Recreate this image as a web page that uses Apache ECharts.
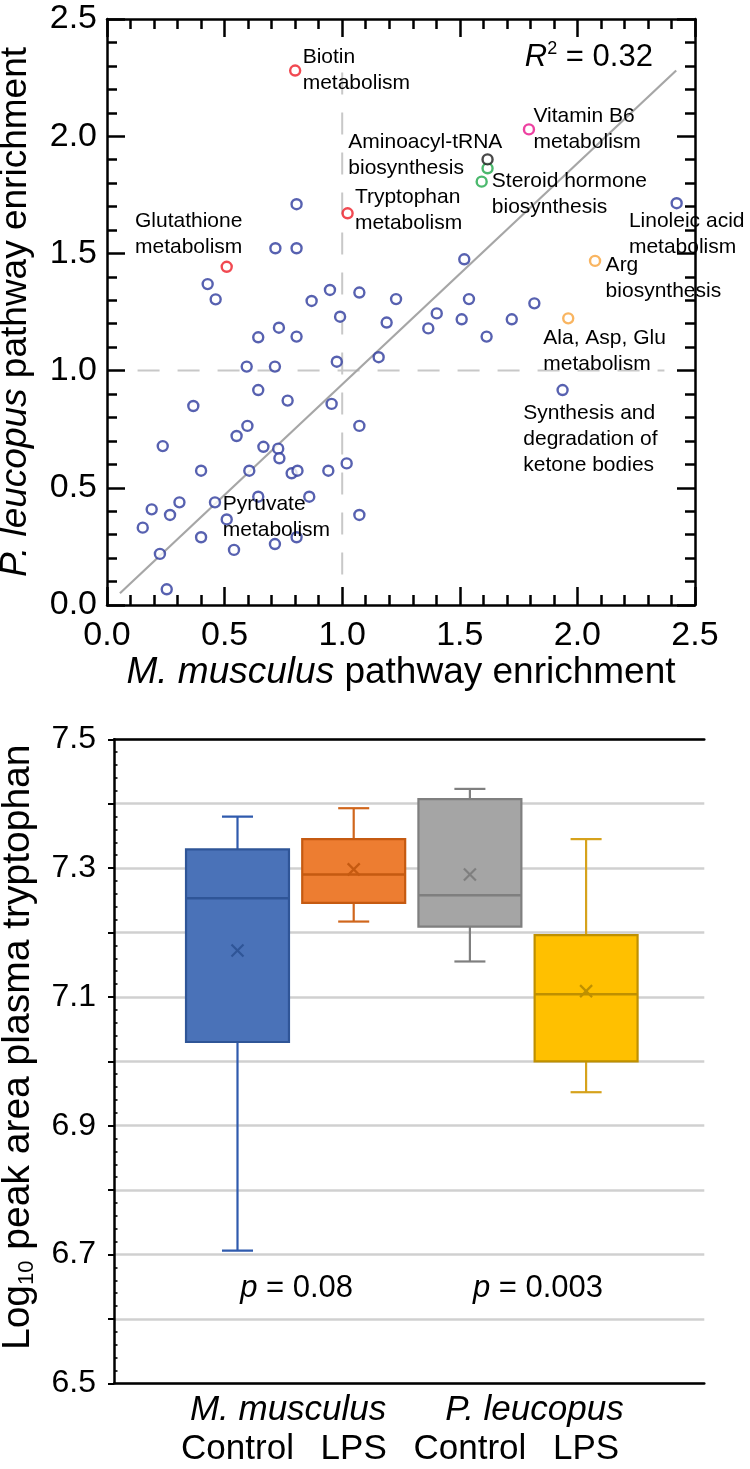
<!DOCTYPE html>
<html>
<head>
<meta charset="utf-8">
<script src="https://cdn.jsdelivr.net/npm/echarts@6/dist/echarts.min.js"></script>
<style>
html,body{margin:0;padding:0;background:#fff;}
#c{width:750px;height:1469px;}
</style>
</head>
<body>
<div id="c"></div>
<script>
// ---------------- Top panel data (pathway enrichment) ----------------
const bluePathways = [
  [0.806,1.71],[0.716,1.522],[0.806,1.522],[0.428,1.369],[0.462,1.304],[0.870,1.297],
  [0.948,1.344],[0.991,1.230],[1.073,1.333],[0.731,1.183],[2.422,1.714],[1.519,1.475],
  [1.229,1.305],[1.539,1.305],[1.817,1.287],[1.189,1.205],[1.402,1.244],[1.366,1.180],
  [1.508,1.219],[1.721,1.219],[1.614,1.145],[1.155,1.057],[1.937,0.917],[0.643,1.142],
  [0.806,1.145],[0.594,1.017],[0.714,1.017],[0.977,1.038],[0.643,0.917],[0.768,0.872],
  [0.367,0.849],[0.955,0.858],[1.073,0.764],[0.597,0.764],[0.551,0.721],[0.665,0.675],
  [0.728,0.667],[0.733,0.626],[0.237,0.678],[0.400,0.573],[0.605,0.573],[0.785,0.562],
  [0.810,0.573],[0.941,0.573],[1.019,0.604],[0.190,0.408],[0.268,0.384],[0.308,0.438],
  [0.152,0.330],[0.225,0.218],[0.254,0.067],[0.400,0.289],[0.459,0.438],[0.509,0.365],
  [0.540,0.235],[0.643,0.462],[0.860,0.462],[0.714,0.260],[0.806,0.289],[1.073,0.384]
];
const redPathways = [[0.800,2.280],[1.023,1.671],[0.509,1.443]];
const greenPathways = [[1.618,1.863],[1.593,1.806]];
const blackPathways = [[1.618,1.901]];
const magentaPathways = [[1.794,2.029]];
const orangePathways = [[2.075,1.468],[1.961,1.223]];

const fitLine = [[0.055,0.05],[2.42,2.28]];
const refLineH = [[0.13,1.0],[2.37,1.0]];
const refLineV = [[1.0,0.13],[1.0,2.30]];

const labelTexts = [
  'Biotin\nmetabolism','Glutathione\nmetabolism','Aminoacyl-tRNA\nbiosynthesis',
  'Tryptophan\nmetabolism','Vitamin B6\nmetabolism','Steroid hormone\nbiosynthesis',
  'Linoleic acid\nmetabolism','Arg\nbiosynthesis','Ala, Asp, Glu\nmetabolism',
  'Synthesis and\ndegradation of\nketone bodies','Pyruvate\nmetabolism'
];
const labelX = [0.832,0.119,1.026,1.054,1.813,1.636,2.219,2.120,1.855,1.770,0.492];
const labelY = [2.282,1.580,1.918,1.684,2.030,1.751,1.584,1.396,1.084,0.708,0.375];
const rSquared = '0.32';
const rSquaredPos = [2.321, 2.337];

const topTicks = [0, 2.5, 0.5];

// ---------------- Bottom panel data (plasma tryptophan) ----------------
const groupLabels = ['Control','LPS','Control','LPS'];
const speciesLabels = ['M. musculus','P. leucopus'];
const whiskerLow  = [6.706, 7.217, 7.155, 6.952];
const q1          = [7.030, 7.246, 7.209, 7.000];
const medians     = [7.253, 7.290, 7.258, 7.104];
const q3          = [7.329, 7.345, 7.407, 7.196];
const whiskerHigh = [7.380, 7.393, 7.423, 7.345];
const means       = [7.172, 7.298, 7.290, 7.109];
const pValues     = ['0.08','0.003'];
const pValueY     = 6.647;
const bottomTicks = [6.5, 7.5, 0.1];

// ---------------- styles ----------------
const FONT = "'Liberation Sans', Arial, Helvetica, sans-serif";
const boxFill   = ['#4a72b8','#ed7d31','#a5a5a5','#ffc000'];
const boxStroke = ['#2f5597','#c55a11','#7f7f7f','#bf9000'];
const whiskerCol= ['#2f5aad','#d0661c','#7f7f7f','#d6a21c'];
const BOX_FRAC = 0.886, CAP_FRAC = 0.267;

const chart = echarts.init(document.getElementById('c'), null, {renderer:'canvas'});

const axisBlack = {color:'#000', width:2.5};
function topAxis(pos, withLabel, extra) {
  return Object.assign({
    type:'value', gridIndex:0, min:topTicks[0], max:topTicks[1], interval:topTicks[2], position:pos,
    axisLine:{show:true, onZero:false, lineStyle:axisBlack},
    axisTick:{show:true, inside:true, length:18, lineStyle:{color:'#000', width:2.5}},
    minorTick:{show:true, splitNumber:5, length:10, lineStyle:{color:'#000', width:2.5}},
    axisLabel:{show:withLabel},
    splitLine:{show:false}, minorSplitLine:{show:false}
  }, extra||{});
}

const boxData = groupLabels.map((g,i)=>[i, whiskerLow[i], q1[i], medians[i], q3[i], whiskerHigh[i], means[i]]);

const option = {
  animation:false,
  backgroundColor:'#fff',
  textStyle:{fontFamily:FONT},
  grid:[
    {left:107, top:19, width:588, height:586, containLabel:false, outerBoundsMode:'none'},
    {left:114, top:739.3, width:590.3, height:644, containLabel:false, outerBoundsMode:'none'},
    {left:179.4, top:739.3, width:464.8, height:644, containLabel:false, outerBoundsMode:'none'}
  ],
  xAxis:[
    topAxis('bottom',true,{
      axisLabel:{show:true, margin:14, fontSize:34, color:'#000', fontFamily:FONT,
        showMinLabel:true, showMaxLabel:true, formatter:v=>v.toFixed(1)},
      name:'{i|M. musculus} pathway enrichment', nameLocation:'middle', nameGap:45,
      nameTextStyle:{fontSize:37, lineHeight:37, color:'#000', fontFamily:FONT,
        rich:{i:{fontStyle:'italic', fontSize:37, lineHeight:37, fontFamily:FONT, color:'#000'}}}
    }),
    topAxis('top',false),
    {type:'category', gridIndex:1, data:[''], position:'bottom',
      axisLine:{show:true, onZero:false, lineStyle:axisBlack}, axisTick:{show:false}, axisLabel:{show:false}, splitLine:{show:false}},
    {type:'category', gridIndex:1, data:[''], position:'top',
      axisLine:{show:true, onZero:false, lineStyle:axisBlack}, axisTick:{show:false}, axisLabel:{show:false}, splitLine:{show:false}},
    {type:'category', gridIndex:2, data:groupLabels, position:'bottom',
      axisLine:{show:false}, axisTick:{show:false}, splitLine:{show:false},
      axisLabel:{show:true, interval:0, margin:49, fontSize:35, lineHeight:35, color:'#000', fontFamily:FONT}},
    {type:'category', gridIndex:2, data:speciesLabels, position:'bottom',
      axisLine:{show:false}, axisTick:{show:false}, splitLine:{show:false},
      axisLabel:{show:true, interval:0, margin:9, color:'#000', fontFamily:FONT,
        formatter:(v,i)=> i===0 ? '{a|'+v+'}' : '{b|'+v+'}',
        rich:{
          a:{fontSize:35, lineHeight:35, fontStyle:'italic', fontFamily:FONT, color:'#000', padding:[0,15,0,0]},
          b:{fontSize:35, lineHeight:35, fontStyle:'italic', fontFamily:FONT, color:'#000', padding:[0,0,0,13]}
        }}}
  ],
  yAxis:[
    topAxis('left',true,{
      axisLabel:{show:true, margin:10, fontSize:34, color:'#000', fontFamily:FONT,
        showMinLabel:true, showMaxLabel:true, formatter:v=>v.toFixed(1)},
      name:'{i|P. leucopus} pathway enrichment', nameLocation:'middle', nameGap:73,
      nameTextStyle:{fontSize:37, lineHeight:37, color:'#000', fontFamily:FONT,
        rich:{i:{fontStyle:'italic', fontSize:37, lineHeight:37, fontFamily:FONT, color:'#000'}}}
    }),
    topAxis('right',false),
    {type:'value', gridIndex:1, min:bottomTicks[0], max:bottomTicks[1], interval:bottomTicks[2], position:'left',
      axisLine:{show:true, onZero:false, lineStyle:axisBlack},
      axisTick:{show:true, inside:false, length:6, lineStyle:{color:'#000', width:2}},
      minorTick:{show:false},
      splitLine:{show:true, lineStyle:{color:'#d0d0d0', width:2.5}},
      minorSplitLine:{show:false},
      axisLabel:{show:true, margin:18, fontSize:32, color:'#000', fontFamily:FONT,
        showMinLabel:true, showMaxLabel:true,
        formatter:v=> (Math.round(v*10)%2===1) ? v.toFixed(1) : ''},
      name:'{a|Log}{s|10}{a| peak area plasma tryptophan}', nameLocation:'middle', nameGap:76,
      nameTextStyle:{color:'#000', fontFamily:FONT, padding:[0,0,0,28],
        rich:{
          a:{fontSize:39, lineHeight:40, fontFamily:FONT, color:'#000'},
          s:{fontSize:22, lineHeight:20, fontFamily:FONT, color:'#000', verticalAlign:'bottom'}
        }}
    },
    {type:'value', gridIndex:2, min:bottomTicks[0], max:bottomTicks[1], show:false,
      axisLine:{show:false}, axisTick:{show:false}, axisLabel:{show:false}, splitLine:{show:false}},
    // overlay axis carrying the small inward minor ticks of the bottom panel
    {type:'value', gridIndex:1, min:bottomTicks[0], max:bottomTicks[1], interval:bottomTicks[2], position:'left', offset:0,
      axisLine:{show:false, onZero:false},
      axisTick:{show:false, inside:true},
      minorTick:{show:true, splitNumber:5, length:3.5, lineStyle:{color:'#000', width:1.6}},
      axisLabel:{show:false}, splitLine:{show:false}, minorSplitLine:{show:false}}
  ],
  series:[
    {type:'line', xAxisIndex:0, yAxisIndex:0, data:refLineH, symbol:'none', silent:true, z:1,
      lineStyle:{color:'#c8c8c8', width:2, type:[22,18]}},
    {type:'line', xAxisIndex:0, yAxisIndex:0, data:refLineV, symbol:'none', silent:true, z:1,
      lineStyle:{color:'#c8c8c8', width:2, type:[22,18]}},
    {type:'line', xAxisIndex:0, yAxisIndex:0, data:fitLine, symbol:'none', silent:true, z:2,
      lineStyle:{color:'#a6a6a6', width:2.2}},
    ...[[bluePathways,'#2d3a9c'],[redPathways,'#ee1c25'],[greenPathways,'#1fa84a'],
        [blackPathways,'#1a1a1a'],[magentaPathways,'#e8118a'],[orangePathways,'#f7a23a']].map(([d,c])=>({
      type:'scatter', xAxisIndex:0, yAxisIndex:0, data:d, symbol:'circle', symbolSize:10, z:3,
      itemStyle:{color:'#fff', borderColor:c, borderWidth:2.4}
    })),
    {type:'scatter', xAxisIndex:0, yAxisIndex:0, z:5, silent:true, symbolSize:0,
      itemStyle:{color:'#000'},
      data:labelTexts.map((t,i)=>({value:[labelX[i], labelY[i]], name:t})),
      label:{show:true, position:[0,0], align:'left', verticalAlign:'middle', opacity:1,
        formatter:p=>p.name, fontSize:21, lineHeight:26, color:'#000', fontFamily:FONT}},
    {type:'scatter', xAxisIndex:0, yAxisIndex:0, z:5, silent:true, symbolSize:0,
      itemStyle:{color:'#000'},
      data:[{value:rSquaredPos, name:rSquared}],
      label:{show:true, position:[0,0], align:'right', verticalAlign:'middle', opacity:1,
        formatter:p=>'{i|R}{s|2}{t| = '+p.name+'}',
        rich:{
          i:{fontSize:31, lineHeight:34, fontStyle:'italic', fontFamily:FONT, color:'#000'},
          s:{fontSize:18, lineHeight:34, fontFamily:FONT, color:'#000', verticalAlign:'top', padding:[0,0,10,0]},
          t:{fontSize:31, lineHeight:34, fontFamily:FONT, color:'#000'}
        }}},
    {type:'custom', xAxisIndex:4, yAxisIndex:3, z:4, silent:true,
      data:boxData,
      encode:{x:0, y:[1,2,3,4,5,6]},
      renderItem:(params, api)=>{
        const i = api.value(0);
        const band = api.size([1,0])[0];
        const cx = api.coord([i, 7])[0];
        const Y = v => api.coord([i, v])[1];
        const bw = band*BOX_FRAC, cw = band*CAP_FRAC;
        const lo = Y(api.value(1)), b1 = Y(api.value(2)), md = Y(api.value(3)),
              b3 = Y(api.value(4)), hi = Y(api.value(5)), mn = Y(api.value(6));
        const wc = whiskerCol[i], sc = boxStroke[i];
        const wl = {stroke:wc, lineWidth:2.2};
        const m = 6;
        return {type:'group', children:[
          {type:'line', shape:{x1:cx, y1:b3, x2:cx, y2:hi}, style:wl},
          {type:'line', shape:{x1:cx-cw/2, y1:hi, x2:cx+cw/2, y2:hi}, style:wl},
          {type:'line', shape:{x1:cx, y1:b1, x2:cx, y2:lo}, style:wl},
          {type:'line', shape:{x1:cx-cw/2, y1:lo, x2:cx+cw/2, y2:lo}, style:wl},
          {type:'rect', shape:{x:cx-bw/2, y:b3, width:bw, height:b1-b3},
            style:{fill:boxFill[i], stroke:sc, lineWidth:2.2}},
          {type:'line', shape:{x1:cx-bw/2, y1:md, x2:cx+bw/2, y2:md}, style:{stroke:sc, lineWidth:2.5}},
          {type:'line', shape:{x1:cx-m, y1:mn-m, x2:cx+m, y2:mn+m}, style:{stroke:sc, lineWidth:2.2}},
          {type:'line', shape:{x1:cx-m, y1:mn+m, x2:cx+m, y2:mn-m}, style:{stroke:sc, lineWidth:2.2}}
        ]};
      }},
    {type:'custom', xAxisIndex:4, yAxisIndex:3, z:5, silent:true,
      data:pValues.map((p,k)=>[k*2, pValueY]),
      encode:{x:0, y:1},
      renderItem:(params, api)=>{
        const k = params.dataIndex;
        const i0 = api.value(0);
        const xa = api.coord([i0, api.value(1)]);
        const xb = api.coord([i0+1, api.value(1)]);
        const dx = k===1 ? 10 : 1;
        return {type:'text', x:(xa[0]+xb[0])/2 + dx, y:xa[1],
          style:{text:'{i|p}{t| = '+pValues[k]+'}', align:'center', verticalAlign:'middle',
            rich:{
              i:{fontSize:31, fontStyle:'italic', fontFamily:FONT, fill:'#000'},
              t:{fontSize:31, fontFamily:FONT, fill:'#000'}
            }}};
      }}
  ]
};
chart.setOption(option);
</script>
</body>
</html>
